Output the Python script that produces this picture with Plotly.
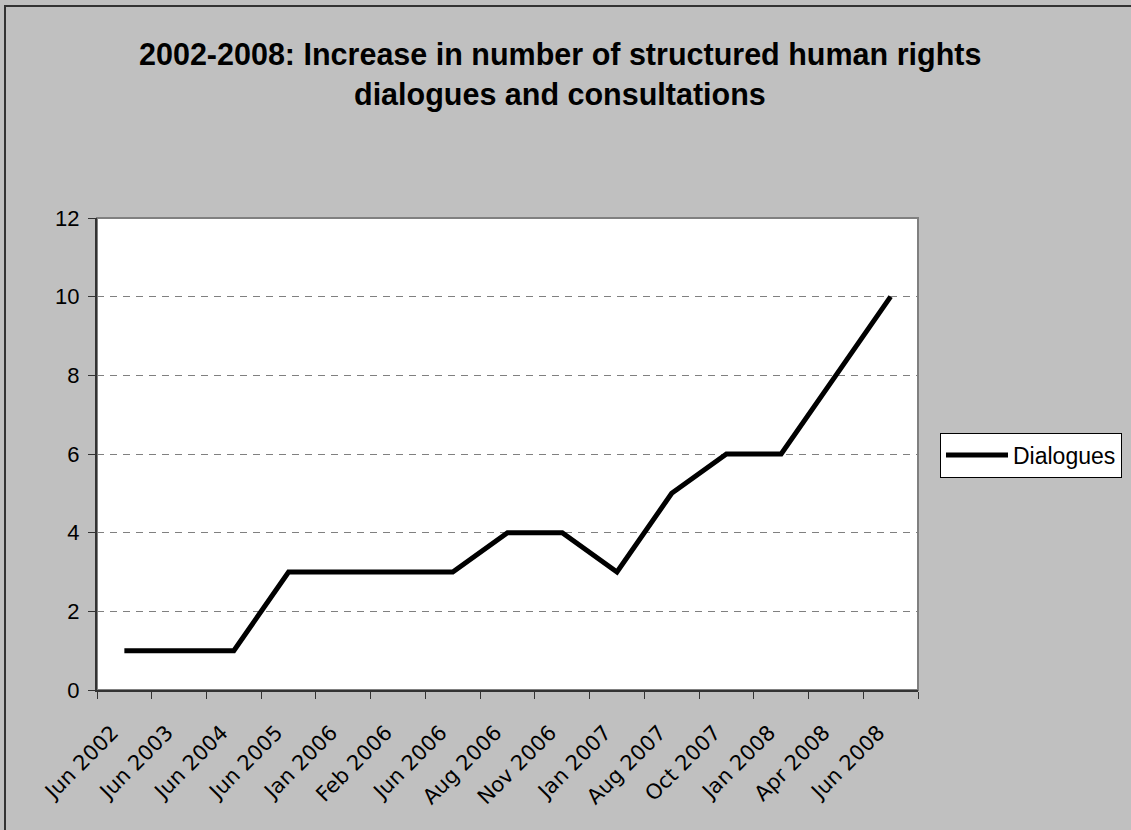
import plotly.graph_objects as go

categories = ["Jun 2002", "Jun 2003", "Jun 2004", "Jun 2005", "Jan 2006", "Feb 2006",
              "Jun 2006", "Aug 2006", "Nov 2006", "Jan 2007", "Aug 2007", "Oct 2007",
              "Jan 2008", "Apr 2008", "Jun 2008"]
dialogues = [1, 1, 1, 3, 3, 3, 3, 4, 4, 3, 5, 6, 6, 8, 10]
y_ticks = [0, 2, 4, 6, 8, 10, 12]

W, H = 1131, 830
L, R, T, B = 97, 918, 218, 690
pw, ph = R - L, B - T

def px(x):
    return (x - L) / pw

def py(y):
    return (B - y) / ph

fig = go.Figure()
fig.add_trace(go.Scatter(
    x=categories, y=dialogues, mode="lines", name="Dialogues",
    line=dict(color="black", width=5),
))

fig.update_layout(
    width=W, height=H,
    margin=dict(l=L, r=W - R, t=T, b=H - B, pad=0, autoexpand=False),
    paper_bgcolor="#C0C0C0",
    plot_bgcolor="white",
    font=dict(family="Liberation Sans, Arial, sans-serif", color="black", size=21),
    showlegend=True,
    legend=dict(
        x=px(940), y=py(455), xanchor="left", yanchor="middle",
        bgcolor="white", bordercolor="black", borderwidth=1,
        itemwidth=62,
        font=dict(size=23, family="Liberation Sans, Arial, sans-serif"),
    ),
    xaxis=dict(
        type="category", tickangle=-45, tickson="boundaries",
        ticks="outside", ticklen=7, tickcolor="#333333",
        showline=True, linecolor="#333333", linewidth=2,
        showgrid=False, zeroline=False, automargin=False,
        tickfont=dict(family="DejaVu Sans, sans-serif", size=21),
        ticklabelstandoff=20, ticklabelshift=-12,
        range=[-0.5, len(categories) - 0.5],
    ),
    yaxis=dict(
        range=[0, 12], tickvals=y_ticks,
        ticks="outside", ticklen=7, tickcolor="#333333",
        showline=True, linecolor="#333333", linewidth=2,
        showgrid=True, gridcolor="#808080", gridwidth=1, griddash="7px,6px",
        zeroline=False, automargin=False,
        ticklabelstandoff=4,
        tickfont=dict(size=22),
    ),
)

# plot-area border (gray, top and right)
fig.add_shape(type="rect", xref="paper", yref="paper", x0=0, y0=0, x1=1, y1=1,
              line=dict(color="#808080", width=2), layer="below")
# outer chart border
fig.add_shape(type="rect", xref="paper", yref="paper",
              x0=px(5), y0=py(H + 20), x1=px(W + 20), y1=py(6),
              line=dict(color="#333333", width=2))

fig.add_annotation(text="<b>2002-2008: Increase in number of structured human rights</b>",
                   xref="paper", yref="paper", x=px(560), y=py(54),
                   xanchor="center", yanchor="middle", showarrow=False,
                   font=dict(size=30.5))
fig.add_annotation(text="<b>dialogues and consultations</b>",
                   xref="paper", yref="paper", x=px(560), y=py(94),
                   xanchor="center", yanchor="middle", showarrow=False,
                   font=dict(size=30.5))

fig.write_html("out.html", config={"displayModeBar": False})

with open("out.html", "r", encoding="utf-8") as f:
    html = f.read()
html = html.replace("<body>", '<body style="margin:0;padding:0;">', 1)
with open("out.html", "w", encoding="utf-8") as f:
    f.write(html)
